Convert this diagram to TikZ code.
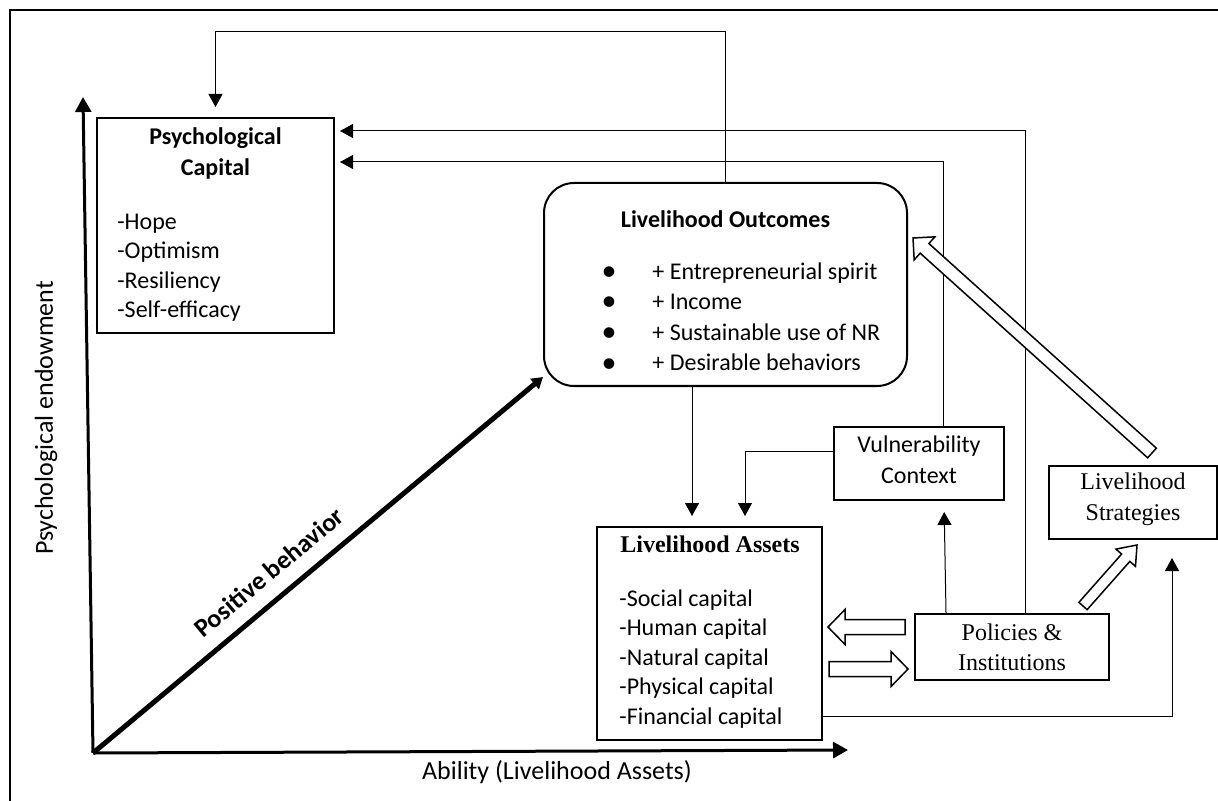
\documentclass[tikz,border=0pt]{standalone}
\usepackage{fontspec}
\setmainfont{Carlito}
\newfontfamily\tnr{Liberation Serif}
\usetikzlibrary{arrows.meta,calc}
\tikzset{
  box/.style={draw, line width=1pt, inner sep=0pt, align=center},
  boxtext/.style={inner sep=0pt, align=center},
  conn/.style={line width=0.5pt, -{Triangle[width=7pt,length=6.5pt]}},
  axisline/.style={line width=1.5pt, -{Triangle[width=8pt,length=7.5pt]}},
  hollow/.style={draw, line width=0.75pt, fill=white, line join=miter},
  txt/.style={inner sep=0pt, anchor=base west, font=\fontsize{12}{14.5}\selectfont},
  ttl/.style={inner sep=0pt, anchor=base, font=\bfseries\fontsize{12}{14.5}\selectfont},
}
\newcommand\blockarrow[5]{%
  \draw[hollow] let \p1=(#1), \p2=(#2),
    \n1={veclen(\x2-\x1,\y2-\y1)},
    \n2={(\x2-\x1)/\n1},
    \n3={(\y2-\y1)/\n1} in
    ({\x1-(#3)*(\n3)},{\y1+(#3)*(\n2)}) --
    ({\x1+(\n1-#5)*(\n2)-(#3)*(\n3)},{\y1+(\n1-#5)*(\n3)+(#3)*(\n2)}) --
    ({\x1+(\n1-#5)*(\n2)-(#4)*(\n3)},{\y1+(\n1-#5)*(\n3)+(#4)*(\n2)}) --
    (\p2) --
    ({\x1+(\n1-#5)*(\n2)+(#4)*(\n3)},{\y1+(\n1-#5)*(\n3)-(#4)*(\n2)}) --
    ({\x1+(\n1-#5)*(\n2)+(#3)*(\n3)},{\y1+(\n1-#5)*(\n3)-(#3)*(\n2)}) --
    ({\x1+(#3)*(\n3)},{\y1-(#3)*(\n2)}) -- cycle;}
\begin{document}
\begin{tikzpicture}[x=0.5pt,y=-0.5pt]
\path[use as bounding box] (0,0) rectangle (1218,801);
\draw[line width=0.75pt] (10,801) -- (10,10) -- (1218,10);

% boxes
\node[box, minimum width=118.5pt, minimum height=107.5pt] (PC) at (215.5,225.5) {};
\node[box, rounded corners=15pt, minimum width=181.5pt, minimum height=101.5pt] (LO) at (725.5,284.5) {};
\node[box, minimum width=85pt, minimum height=36.5pt] (VC) at (919,463.5) {};
\node[boxtext, font=\fontsize{12}{15.5}\selectfont] (VCt) at ([yshift=1.75pt]VC.center) {Vulnerability\\Context};
\node[box, minimum width=84pt, minimum height=36.5pt] (LS) at (1133,502.5) {};
\node[boxtext, font=\tnr\fontsize{12}{15.5}\selectfont] (LSt) at ([yshift=1.5pt]LS.center) {Livelihood\\Strategies};
\node[box, font=\tnr\fontsize{12}{15}\selectfont, minimum width=97pt, minimum height=33pt] (PI) at (1012,647) {Policies \&\\Institutions};
\node[box, minimum width=112.5pt, minimum height=106.5pt] (LA) at (709.5,633.5) {};

% Psychological capital text
\node[ttl] (pct1) at (215.5,145) {Psychological};
\node[ttl] (pct2) at (215.5,176) {Capital};
\node[txt] (pc1) at (117,230) {-Hope};
\node[txt] (pc2) at (117,259) {-Optimism};
\node[txt] (pc3) at (117,289) {-Resiliency};
\node[txt] (pc4) at (117,318) {-Self-efficacy};

% Livelihood outcomes text
\node[ttl] (lot) at (725.5,228) {Livelihood Outcomes};
\foreach \yy/\tx [count=\i] in {280/{+ Entrepreneurial spirit},310/{+ Income},341/{+ Sustainable use of NR},371/{+ Desirable behaviors}}{
  \node[inner sep=0pt, anchor=base, font=\fontsize{15}{15}\selectfont] (lob\i) at (609,\yy+1) {\textbullet};
  \node[txt] (lot\i) at (652,\yy) {\tx};
}

% Livelihood assets text
\node[ttl, font=\tnr\bfseries\fontsize{12}{14.5}\selectfont] (lat) at (710,552) {Livelihood Assets};
\node[txt] (la1) at (619,606) {-Social capital};
\node[txt] (la2) at (619,635.5) {-Human capital};
\node[txt] (la3) at (619,665) {-Natural capital};
\node[txt] (la4) at (619,694.5) {-Physical capital};
\node[txt] (la5) at (619,724) {-Financial capital};

% axes
\coordinate (O) at (93,753);
\coordinate (Ytip) at (83,97);
\coordinate (Xtip) at (848,750);
\coordinate (Dtip) at (543,377);
\draw[axisline] (O) -- (Ytip);
\draw[axisline] (O) -- (Xtip);
\draw[line width=2.5pt, -{Triangle[width=6.5pt,length=5.5pt]}] (O) -- (Dtip);
\node[rotate=90, font=\fontsize{13}{15}\selectfont] (ylab) at (46,418) {Psychological endowment};
\node[font=\fontsize{13}{15}\selectfont] (xlab) at (557,772) {Ability (Livelihood Assets)};
\node[rotate=40, font=\bfseries\fontsize{13}{15}\selectfont] (pb) at (269,572) {Positive behavior};

% thin connectors
\coordinate (y32) at (0,32);
\coordinate (y131) at (0,131);
\coordinate (y162) at (0,162);
\draw[conn, shorten >=5pt] (LO.north) -- (LO.north |- y32) -| (PC.north);
\draw[conn, shorten >=2.5pt] ([xshift=6.5pt]PI.north) |- (PC.east |- y131);
\draw[conn, shorten >=2.5pt] ([xshift=12pt]VC.north) |- (PC.east |- y162);
\draw[conn, shorten >=5pt] ([xshift=-16.75pt]LO.south) -- ([xshift=-16.75pt]LO.south |- LA.north);
\draw[conn, shorten >=5pt] ([yshift=6.25pt]VC.west) -| ([xshift=17.75pt]LA.north);
\draw[conn, shorten >=5.5pt] ([xshift=-33pt]PI.north) -- ([xshift=12.5pt]VC.south);
\draw[conn, shorten >=9pt] ([yshift=-41.25pt]LA.east) -| ([xshift=19.5pt]LS.south);

% block arrows
\coordinate (b1a) at (905,627); \coordinate (b1b) at (828,627);
\coordinate (b2a) at (829,669); \coordinate (b2b) at (908,669);
\coordinate (b3a) at (1083,606); \coordinate (b3b) at (1137,545);
\coordinate (b4a) at (1152,453); \coordinate (b4b) at (913,238);
\blockarrow{b1a}{b1b}{3.75}{8.75}{8.5}
\blockarrow{b2a}{b2b}{3.75}{8.75}{8.5}
\blockarrow{b3a}{b3b}{2.75}{6.5}{8.5}
\blockarrow{b4a}{b4b}{3.25}{7.75}{7.75}
\end{tikzpicture}
\end{document}
